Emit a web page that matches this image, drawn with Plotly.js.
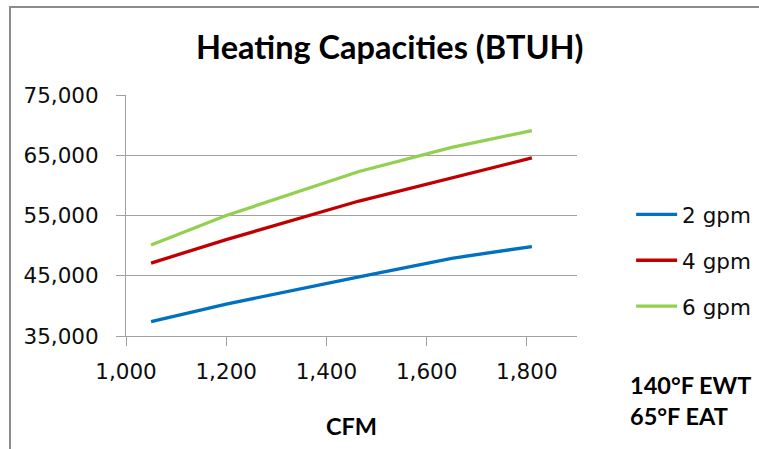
<!DOCTYPE html>
<html>
<head>
<meta charset="utf-8">
<script src="https://cdn.plot.ly/plotly-3.0.1.min.js"></script>
<style>
  html, body { margin: 0; padding: 0; background: #ffffff; }
  #wrap { position: relative; width: 759px; height: 449px; overflow: hidden; }
  #chart { width: 759px; height: 449px; }
  #frame {
    position: absolute; left: 9px; top: 6px; width: 800px; height: 500px;
    border-left: 2px solid #8c8c8c; border-top: 2px solid #8c8c8c;
    pointer-events: none;
  }
</style>
</head>
<body>
<div id="wrap">
  <div id="chart"></div>
  <div id="frame"></div>
</div>
<script>
// Airflow (CFM) at which heating capacity was rated
const cfm = [1050, 1200, 1465, 1650, 1810];

// Heating capacity (BTUH) for each water flow rate
const gpm2 = [37400, 40300, 44800, 47900, 49850];
const gpm4 = [47100, 51000, 57400, 61300, 64550];
const gpm6 = [50100, 55000, 62300, 66300, 69100];

const seriesNames = ['2 gpm', '4 gpm', '6 gpm'];
const seriesColors = ['#0070C0', '#C00000', '#92D050'];
const seriesValues = [gpm2, gpm4, gpm6];

const traces = seriesValues.map((vals, i) => ({
  type: 'scatter',
  mode: 'lines',
  x: cfm,
  y: vals,
  name: seriesNames[i],
  legendgroup: 'g' + i,
  line: { color: seriesColors[i], width: 3.3 }
}));

const gridGray = '#a0a0a0';
const tickFont = { family: 'DejaVu Sans, Verdana, sans-serif', size: 21.5, color: '#0d0d0d' };
const boldFont = 'Lato, Calibri, sans-serif';

const layout = {
  width: 759,
  height: 449,
  paper_bgcolor: '#ffffff',
  plot_bgcolor: '#ffffff',
  margin: { l: 126, r: 182, t: 95, b: 113, pad: 0, autoexpand: false },
  title: {
    text: '<b>Heating Capacities (BTUH)</b>',
    font: { family: boldFont, size: 32.5, color: '#000000' },
    x: 0.585, xanchor: 'center', xref: 'paper',
    y: 0.895, yanchor: 'middle', yref: 'container'
  },
  xaxis: {
    range: [1000, 1900],
    tick0: 1000,
    dtick: 200,
    tickformat: ',',
    showgrid: false,
    zeroline: false,
    showline: true,
    linecolor: gridGray,
    linewidth: 1,
    ticks: 'outside',
    ticklen: 9,
    tickcolor: gridGray,
    tickwidth: 1,
    tickfont: tickFont,
    ticklabelstandoff: 7,
    title: {
      text: '<b>CFM</b>',
      font: { family: boldFont, size: 23.5, color: '#000000' },
      standoff: 35
    }
  },
  yaxis: {
    range: [35000, 75000],
    tick0: 35000,
    dtick: 10000,
    tickformat: ',',
    showgrid: true,
    gridcolor: gridGray,
    gridwidth: 1,
    zeroline: false,
    showline: true,
    linecolor: gridGray,
    linewidth: 1,
    ticks: 'outside',
    ticklen: 9,
    tickcolor: gridGray,
    tickwidth: 1,
    tickfont: tickFont,
    ticklabelstandoff: 13
  },
  showlegend: true,
  legend: {
    x: 1.12, xanchor: 'left',
    y: 0.59, yanchor: 'top',
    font: tickFont,
    bgcolor: 'rgba(0,0,0,0)',
    borderwidth: 0,
    traceorder: 'grouped',
    tracegroupgap: 15,
    itemwidth: 41
  },
  annotations: [{
    text: '<b>140°F EWT<br>65°F EAT</b>',
    xref: 'paper', yref: 'paper',
    x: 1.112, xanchor: 'left',
    y: -0.266, yanchor: 'middle',
    align: 'left',
    showarrow: false,
    font: { family: boldFont, size: 23.5, color: '#000000' }
  }]
};

Plotly.newPlot('chart', traces, layout, { displayModeBar: false, staticPlot: true });
</script>
</body>
</html>
